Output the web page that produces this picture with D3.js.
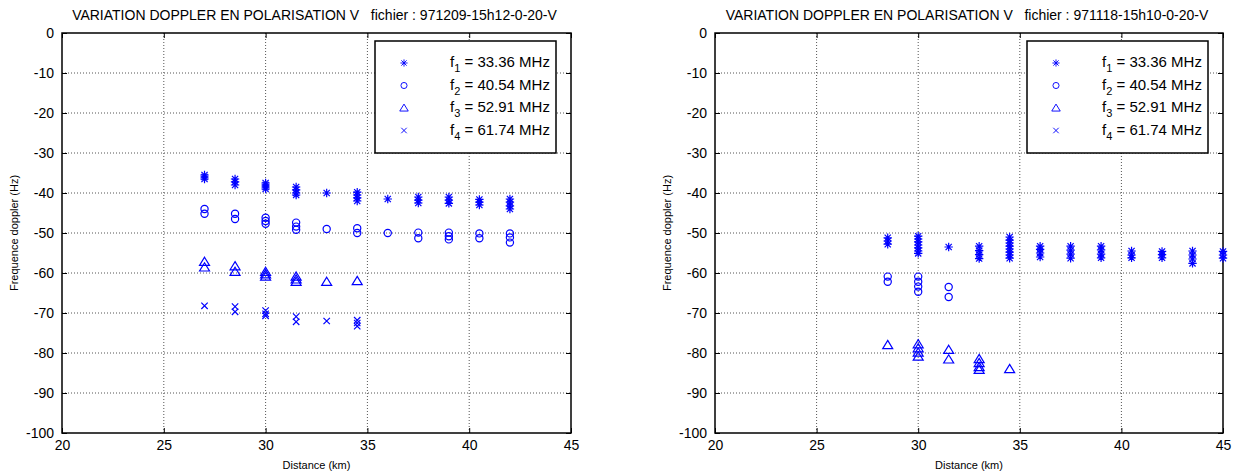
<!DOCTYPE html>
<html><head><meta charset="utf-8">
<script src="https://cdn.jsdelivr.net/npm/d3@7"></script>
<style>
body{margin:0;background:#fff;}
svg{display:block;font-family:"Liberation Sans",Arial,sans-serif;}
</style></head>
<body><svg id="c" width="1243" height="475"></svg>
<script>
// ---------- DATA ----------
const xTicks = [20, 25, 30, 35, 40, 45];
const yTicks = [0, -10, -20, -30, -40, -50, -60, -70, -80, -90, -100];
const legendLabels = [["1", "33.36 MHz"], ["2", "40.54 MHz"], ["3", "52.91 MHz"], ["4", "61.74 MHz"]];
const titleLeft = "VARIATION DOPPLER EN POLARISATION V   fichier : 971209-15h12-0-20-V";
const titleRight = "VARIATION DOPPLER EN POLARISATION V   fichier : 971118-15h10-0-20-V";

// left chart (971209): distance (km) and doppler values per distance
const leftF1Dist = [27, 28.5, 30, 31.5, 33, 34.5, 36, 37.5, 39, 40.5, 42];
const leftF1 = [[-35.5, -36, -36.5], [-36.5, -37.2, -38], [-37.5, -38, -38.5, -39], [-38.5, -39.2, -40, -40.5], [-40], [-39.8, -40.5, -41.2, -42], [-41.5], [-41, -41.8, -42.5], [-41, -41.8, -42.6], [-41.6, -42.3, -43], [-41.5, -42.3, -43.2, -44]];
const leftF2Dist = [27, 28.5, 30, 31.5, 33, 34.5, 36, 37.5, 39, 40.5, 42];
const leftF2 = [[-44, -45.2], [-45.2, -46.5], [-46.2, -47, -47.7], [-47.4, -48.4, -49.2], [-49], [-48.8, -50], [-50], [-49.9, -51.3], [-49.9, -50.8, -51.6], [-50.1, -51.3], [-50.1, -51.1, -52.4]];
const leftF3Dist = [27, 28.5, 30, 31.5, 33, 34.5];
const leftF3 = [[-57.2, -58.6], [-58.3, -59.7], [-59.7, -60.3, -60.9], [-60.9, -61.6, -62.2], [-62.2], [-62]];
const leftF4Dist = [27, 28.5, 30, 31.5, 33, 34.5];
const leftF4 = [[-68.2], [-68.4, -69.7], [-69.4, -70.2, -70.7], [-70.9, -72.2], [-72], [-71.8, -72.5, -73.3]];

// right chart (971118)
const rightF1Dist = [28.5, 30, 31.5, 33, 34.5, 36, 37.5, 39, 40.5, 42, 43.5, 45];
const rightF1 = [[-51.2, -52, -52.8], [-50.8, -51.5, -52.2, -53, -53.7, -54.5, -55.1], [-53.5], [-53.3, -54.4, -55.4, -56.4], [-51, -51.8, -52.5, -53.3, -54, -54.8, -55.5, -56.3], [-53.3, -54.1, -55, -56], [-53.3, -54.3, -55.3, -56.3], [-53.3, -54.2, -55.3, -56.2], [-54.5, -55.5, -56.2], [-54.6, -55.4, -56.2], [-54.5, -55.5, -56.5, -57.6], [-54.6, -55.5, -56.3]];
const rightF2Dist = [28.5, 30, 31.5];
const rightF2 = [[-60.9, -62.2], [-60.9, -62.2, -63.4, -64.7], [-63.5, -66]];
const rightF3Dist = [28.5, 30, 31.5, 33, 34.5];
const rightF3 = [[-78], [-77.8, -78.8, -79.9, -80.9], [-79.2, -81.6], [-81.5, -82.5, -83.5, -84.2], [-84]];
const rightF4Dist = [];
const rightF4 = [];

// ---------- DRAW ----------
const svg = d3.select("#c");
const blue = "#0000ff";

function markerPath(type) {
  const p = d3.path();
  if (type === 0) { // asterisk
    const s = 4.2, d = 3.1;
    p.moveTo(-s, 0); p.lineTo(s, 0); p.moveTo(0, -s); p.lineTo(0, s);
    p.moveTo(-d, -d); p.lineTo(d, d); p.moveTo(-d, d); p.lineTo(d, -d);
  } else if (type === 1) { // circle
    p.arc(0, 0, 3.6, 0, 2 * Math.PI); p.closePath();
  } else if (type === 2) { // triangle
    p.moveTo(0, -4.6); p.lineTo(5, 3.6); p.lineTo(-5, 3.6); p.closePath();
  } else { // x
    const s = 3.2;
    p.moveTo(-s, -s); p.lineTo(s, s); p.moveTo(-s, s); p.lineTo(s, -s);
  }
  return p.toString();
}

function flatten(dist, vals) {
  const out = [];
  dist.forEach((d, i) => vals[i].forEach(v => out.push([d, v])));
  return out;
}

function drawChart(opt) {
  const {x0, x1, y0, y1, title, series, legendX} = opt;
  const x = d3.scaleLinear().domain([20, 45]).range([x0, x1]);
  const y = d3.scaleLinear().domain([-100, 0]).range([y1, y0]);
  const g = svg.append("g");
  const fmt = d => String(d);

  // grid
  g.append("g").selectAll("line").data(xTicks.slice(1, -1)).join("line")
    .attr("x1", d => x(d)).attr("x2", d => x(d)).attr("y1", y0).attr("y2", y1)
    .attr("stroke", "#555").attr("stroke-width", 1).attr("stroke-dasharray", "1,2");
  g.append("g").selectAll("line").data(yTicks.slice(1, -1)).join("line")
    .attr("y1", d => y(d)).attr("y2", d => y(d)).attr("x1", x0).attr("x2", x1)
    .attr("stroke", "#555").attr("stroke-width", 1).attr("stroke-dasharray", "1,2");

  // axes (D3 axes with inward ticks)
  const axB = d3.axisBottom(x).tickValues(xTicks).tickSize(-5).tickPadding(9).tickFormat(fmt);
  const axL = d3.axisLeft(y).tickValues(yTicks).tickSize(-5).tickPadding(8).tickFormat(fmt);
  const axT = d3.axisTop(x).tickValues(xTicks).tickSize(-5).tickFormat("");
  const axR = d3.axisRight(y).tickValues(yTicks).tickSize(-5).tickFormat("");
  const gb = g.append("g").attr("transform", `translate(0,${y1})`).call(axB);
  const gl = g.append("g").attr("transform", `translate(${x0},0)`).call(axL);
  const gt = g.append("g").attr("transform", `translate(0,${y0})`).call(axT);
  const gr = g.append("g").attr("transform", `translate(${x1},0)`).call(axR);
  [gb, gl, gt, gr].forEach(a => {
    a.select(".domain").remove();
    a.selectAll(".tick line").attr("stroke", "#000").attr("stroke-width", 1);
    a.selectAll("text").attr("font-size", 14).attr("fill", "#000")
      .attr("font-family", "Liberation Sans, Arial, sans-serif");
  });
  gb.selectAll("text").attr("dy", "0.6em");
  g.append("rect").attr("x", x0).attr("y", y0).attr("width", x1 - x0).attr("height", y1 - y0)
    .attr("fill", "none").attr("stroke", "#000").attr("stroke-width", 1.5);

  // data
  series.forEach((s, k) => {
    g.append("g").selectAll("path").data(flatten(s[0], s[1])).join("path")
      .attr("d", markerPath(k))
      .attr("transform", d => `translate(${x(d[0])},${y(d[1])})`)
      .attr("fill", "none").attr("stroke", blue).attr("stroke-width", 1.2);
  });

  // titles
  g.append("text").attr("x", (x0 + x1) / 2 - 2).attr("y", 20).attr("text-anchor", "middle")
    .attr("font-size", 14).attr("fill", "#000").attr("xml:space", "preserve").text(title);
  g.append("text").attr("x", (x0 + x1) / 2).attr("y", 469).attr("text-anchor", "middle")
    .attr("font-size", 11).attr("fill", "#000").text("Distance (km)");
  g.append("text").attr("transform", `translate(${x0 - 44},${(y0 + y1) / 2}) rotate(-90)`)
    .attr("text-anchor", "middle").attr("font-size", 11).attr("fill", "#000").text("Frequence doppler (Hz)");

  // legend
  const lg = g.append("g").attr("transform", `translate(${legendX},41)`);
  lg.append("rect").attr("width", 181).attr("height", 112).attr("fill", "#fff")
    .attr("stroke", "#000").attr("stroke-width", 1.5);
  legendLabels.forEach((lab, i) => {
    const cy = 22 + i * 22.5;
    lg.append("path").attr("d", markerPath(i)).attr("transform", `translate(29,${cy}) scale(0.85)`)
      .attr("fill", "none").attr("stroke", blue).attr("stroke-width", 1.1);
    const t = lg.append("text").attr("x", 75).attr("y", cy + 4).attr("font-size", 15).attr("fill", "#000");
    t.append("tspan").text("f");
    t.append("tspan").attr("font-size", 11).attr("dy", 5).text(lab[0]);
    t.append("tspan").attr("dy", -5).text(" = " + lab[1]);
  });
}

drawChart({x0: 62, x1: 571, y0: 33, y1: 433, title: titleLeft, legendX: 375,
  series: [[leftF1Dist, leftF1], [leftF2Dist, leftF2], [leftF3Dist, leftF3], [leftF4Dist, leftF4]]});
drawChart({x0: 715, x1: 1223, y0: 33, y1: 433, title: titleRight, legendX: 1027,
  series: [[rightF1Dist, rightF1], [rightF2Dist, rightF2], [rightF3Dist, rightF3], [rightF4Dist, rightF4]]});
</script>
</body></html>
